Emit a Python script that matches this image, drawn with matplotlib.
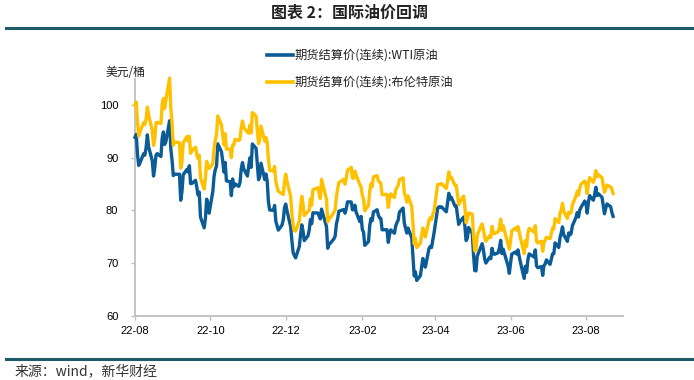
import matplotlib
matplotlib.use("Agg")
import matplotlib.pyplot as plt
import matplotlib.dates as mdates
from matplotlib.lines import Line2D
import pandas as pd

plt.rcParams['font.family'] = ['Noto Sans CJK SC', 'DejaVu Sans']

dates = (
    ["2022-08-%02d" % d for d in [1,2,3,4,5,8,9,10,11,12,15,16,17,18,19,22,23,24,25,26,29,30,31]]
    + ["2022-09-%02d" % d for d in [1,2,6,7,8,9,12,13,14,15,16,19,20,21,22,23,26,27,28,29,30]]
    + ["2022-10-%02d" % d for d in [3,4,5,6,7,10,11,12,13,14,17,18,19,20,21,24,25,26,27,28,31]]
    + ["2022-11-%02d" % d for d in [1,2,3,4,7,8,9,10,11,14,15,16,17,18,21,22,23,25,28,29,30]]
    + ["2022-12-%02d" % d for d in [1,2,5,6,7,8,9,12,13,14,15,16,19,20,21,22,23,27,28,29,30]]
    + ["2023-01-%02d" % d for d in [3,4,5,6,9,10,11,12,13,17,18,19,20,23,24,25,26,27,30,31]]
    + ["2023-02-%02d" % d for d in [1,2,3,6,7,8,9,10,13,14,15,16,17,21,22,23,24,27,28]]
    + ["2023-03-%02d" % d for d in [1,2,3,6,7,8,9,10,13,14,15,16,17,20,21,22,23,24,27,28,29,30,31]]
    + ["2023-04-%02d" % d for d in [3,4,5,6,10,11,12,13,14,17,18,19,20,21,24,25,26,27,28]]
    + ["2023-05-%02d" % d for d in [1,2,3,4,5,8,9,10,11,12,15,16,17,18,19,22,23,24,25,26,30,31]]
    + ["2023-06-%02d" % d for d in [1,2,5,6,7,8,9,12,13,14,15,16,20,21,22,23,26,27,28,29,30]]
    + ["2023-07-%02d" % d for d in [3,5,6,7,10,11,12,13,14,17,18,19,20,21,24,25,26,27,28,31]]
    + ["2023-08-%02d" % d for d in [1,2,3,4,7,8,9,10,11,14,15,16,17,18,21,22,23]]
)

wti = [
    93.89,94.42,90.66,88.54,89.01,90.76,90.50,91.93,94.34,92.09,89.41,86.53,88.11,90.50,90.77,90.23,93.74,94.89,92.52,93.06,97.01,91.64,89.55,
    86.61,86.87,86.88,81.94,83.54,86.79,87.78,87.31,88.48,85.10,85.11,85.73,84.45,82.94,83.49,78.74,76.71,78.50,82.15,81.23,79.49,
    83.63,86.52,87.76,88.45,92.64,91.13,89.35,87.27,89.11,85.61,85.46,82.82,85.98,84.51,85.05,84.58,85.32,87.91,89.08,87.90,86.53,
    88.37,90.00,88.17,92.61,91.79,88.91,85.83,86.47,88.96,85.87,86.92,85.59,81.64,80.08,80.04,80.95,77.94,76.28,77.24,78.20,80.55,
    81.22,79.98,76.93,74.25,72.01,71.46,71.02,73.17,75.39,77.28,76.11,74.29,75.19,76.23,78.29,77.49,79.56,79.53,78.96,78.40,80.26,
    76.93,72.84,73.67,73.77,74.63,75.12,77.41,78.39,79.86,80.18,79.48,80.33,81.64,81.62,80.13,80.15,81.01,79.68,77.90,78.87,
    76.41,75.88,73.39,74.11,77.14,78.47,78.06,79.72,80.14,79.06,78.59,78.49,76.34,76.36,73.95,75.39,76.32,75.68,77.05,
    77.69,78.16,79.68,80.46,77.58,76.66,75.72,76.68,74.80,71.33,67.61,68.35,66.74,67.64,69.33,70.90,69.96,69.26,72.81,73.20,72.97,74.37,75.67,
    80.42,80.71,80.61,80.70,79.74,81.53,83.26,82.16,82.52,80.83,80.86,79.16,77.37,77.87,78.76,77.07,74.30,74.76,76.78,
    75.66,71.66,68.60,68.56,71.34,73.16,73.71,72.56,70.87,70.04,71.11,70.86,72.83,71.86,71.69,71.99,72.91,74.34,71.83,72.67,69.46,68.09,
    70.10,71.74,72.15,71.74,72.53,71.29,70.17,67.12,69.42,68.27,70.62,71.78,71.19,72.53,69.51,69.16,69.37,67.70,69.56,69.86,70.64,
    69.79,71.79,71.80,73.86,72.99,74.83,75.75,76.89,75.42,74.15,75.75,75.35,75.63,77.07,78.74,79.63,78.78,80.09,80.58,81.80,
    81.37,79.49,81.55,82.82,81.94,82.92,84.40,82.82,83.19,82.51,80.99,79.38,80.39,81.25,80.72,79.64,78.89,
]

brent = [
    100.03,100.54,96.78,94.12,94.92,96.65,96.31,97.40,99.60,98.15,95.10,92.34,93.65,96.59,96.72,96.48,100.22,101.22,99.34,100.99,105.09,99.31,96.49,
    92.36,93.02,92.83,88.00,89.15,92.84,94.00,93.17,94.10,90.84,91.35,92.00,90.62,89.83,90.46,86.15,84.06,86.27,89.32,88.49,87.96,
    88.86,91.80,93.37,94.42,97.92,96.19,94.29,92.45,94.57,91.63,91.62,90.03,92.41,92.38,93.50,93.26,93.52,95.69,96.96,95.77,94.83,
    94.65,96.16,94.67,98.57,97.92,95.36,92.65,93.67,95.99,93.14,93.86,92.86,89.78,87.62,87.45,88.36,85.41,83.63,83.19,83.03,85.43,
    86.88,85.57,82.68,79.35,77.17,76.15,76.10,77.99,80.68,82.70,81.21,79.04,79.80,79.99,82.20,80.98,83.92,84.33,83.26,82.26,85.91,
    82.10,77.84,78.69,78.57,79.65,80.10,82.67,84.03,85.28,85.92,84.98,86.16,87.63,88.19,86.13,86.12,87.47,86.66,84.90,84.49,
    82.84,82.17,79.94,80.99,83.69,85.09,84.50,86.39,86.61,85.58,85.38,85.14,83.00,83.05,80.60,82.21,83.16,82.45,83.89,
    84.31,84.75,85.83,86.18,83.29,82.66,81.59,82.78,80.77,77.45,73.69,74.70,72.97,73.79,75.32,76.69,75.91,74.99,78.12,78.65,78.28,79.27,79.77,
    84.93,84.94,84.99,85.12,84.18,85.61,87.33,86.09,86.31,84.76,84.77,83.12,81.10,81.66,82.73,80.77,77.69,78.37,79.54,
    79.31,75.32,72.33,72.50,75.30,77.01,77.44,76.41,74.98,74.17,75.23,74.91,76.96,75.86,75.58,75.99,76.84,78.36,76.26,77.12,73.54,72.66,
    74.28,76.13,76.71,76.29,76.95,75.96,74.79,71.84,74.29,73.20,75.67,76.61,75.90,77.12,74.14,73.85,74.18,72.26,74.03,74.34,74.90,
    74.65,76.65,76.52,78.47,77.69,79.40,80.11,81.36,79.87,78.50,79.63,79.46,79.64,81.07,82.74,83.64,82.92,84.24,84.99,85.56,
    84.91,83.20,85.14,86.24,85.34,86.17,87.55,86.40,86.81,86.21,84.89,83.45,84.12,84.80,84.46,84.03,83.21,
]

series_labels = ["期货结算价(连续):WTI原油", "期货结算价(连续):布伦特原油"]
y_ticks = [60, 70, 80, 90, 100]
title_text = "图表 2：国际油价回调"
unit_text = "美元/桶"
source_text = "来源：wind，新华财经"

W, H = 694, 380
fig = plt.figure(figsize=(W / 100, H / 100), dpi=100)

x = pd.to_datetime(dates)

left, right, bottom, top = 135, 623, 316, 78.6
ax = fig.add_axes([left / W, 1 - bottom / H, (right - left) / W, (bottom - top) / H])

c_wti = "#0B5B96"
c_brent = "#FFC000"
ax.plot(x, wti, color=c_wti, lw=2.4, solid_joinstyle="round", clip_on=False, zorder=3)
ax.plot(x, brent, color=c_brent, lw=2.4, solid_joinstyle="round", clip_on=False, zorder=4)

ax.set_xlim(pd.Timestamp("2022-08-01"), pd.Timestamp("2023-08-31"))
ax.set_ylim(60, 105)
ax.set_yticks(y_ticks)
ax.xaxis.set_major_locator(mdates.MonthLocator(bymonth=[2, 4, 6, 8, 10, 12]))
ax.xaxis.set_major_formatter(mdates.DateFormatter("%y-%m"))

for s in ["top", "right"]:
    ax.spines[s].set_visible(False)
for s in ["left", "bottom"]:
    ax.spines[s].set_color("#BFBFBF")
    ax.spines[s].set_linewidth(1.3)
ax.tick_params(axis="both", direction="out", length=3, width=1, color="#BFBFBF",
               labelsize=8, labelcolor="#000000")
ax.tick_params(axis="x", pad=4.5)
ax.tick_params(axis="y", pad=9)
for lab in ax.get_xticklabels() + ax.get_yticklabels():
    lab.set_fontfamily(["Liberation Sans", "DejaVu Sans"])
ax.set_facecolor("none")

# title and rules
fig.text(349 / W, 1 - 13 / H, title_text, ha="center", va="center",
         fontsize=11.5, fontweight="bold", color="#222222")
fig.add_artist(Line2D([6 / W, 1.0], [1 - 28 / H] * 2, color="#1F5A68", lw=2.2,
                      transform=fig.transFigure))
fig.add_artist(Line2D([6 / W, 1.0], [1 - 358.7 / H] * 2, color="#1F5A68", lw=2.2,
                      transform=fig.transFigure))

# unit label
fig.text(106 / W, 1 - 72 / H, unit_text, ha="left", va="center", fontsize=8.5, color="#222222")

# legend
for yy, col, lab in [(55, c_wti, series_labels[0]), (82, c_brent, series_labels[1])]:
    fig.add_artist(Line2D([267 / W, 293 / W], [1 - yy / H] * 2, color=col, lw=2.6,
                          transform=fig.transFigure))
    fig.text(295 / W, 1 - yy / H, lab, ha="left", va="center", fontsize=8.8, color="#222222")

# source
fig.text(15 / W, 1 - 371 / H, source_text, ha="left", va="center", fontsize=10, color="#333333")

fig.savefig("out.png", dpi=100)
